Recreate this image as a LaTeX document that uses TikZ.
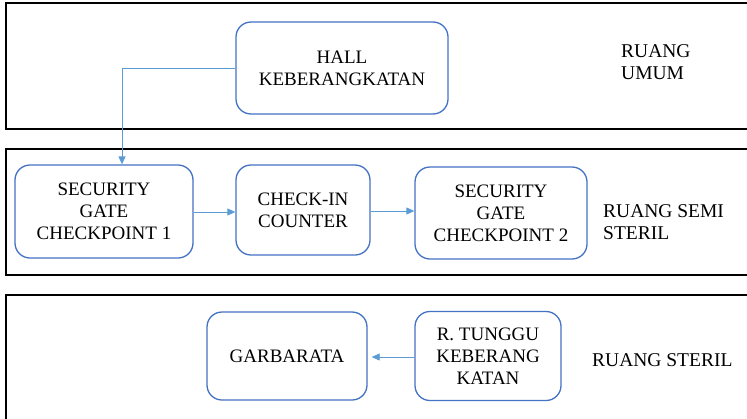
\documentclass[tikz,border=0pt]{standalone}
\usepackage{fontspec}
\setmainfont{Liberation Serif}
\usetikzlibrary{arrows.meta}
\definecolor{boxblue}{RGB}{68,114,196}
\definecolor{linkblue}{RGB}{91,155,213}
\tikzset{
  zone/.style={draw=black, line width=1.3pt},
  room/.style={draw=boxblue, line width=1.3pt, rounded corners=15pt, align=center,
    inner sep=0pt, font=\fontsize{19}{22}\selectfont},
  zonelabel/.style={font=\fontsize{19.5}{22}\selectfont, inner sep=0pt, align=left},
  flow/.style={draw=linkblue, line width=0.8pt, -{Triangle[length=8pt,width=7pt]}}
}
\begin{document}
\begin{tikzpicture}[x=1pt,y=-1pt]
  \useasboundingbox (0,0) rectangle (747,418);
  \clip (0,0) rectangle (747,418);

  % zone bands
  \draw[zone] (6,3) rectangle (770,129);
  \draw[zone] (6,149) rectangle (770,275);
  \draw[zone] (6,295) rectangle (770,440);

  % public zone
  \node[room, minimum width=212pt, minimum height=92pt] (hall) at (342,68)
    {HALL\\KEBERANGKATAN};
  \node[zonelabel, anchor=west] (umum) at (621,62.5) {RUANG\\UMUM};

  % semi-sterile zone
  \node[room, minimum width=178pt, minimum height=93pt] (sg1) at (104,211.5)
    {SECURITY\\GATE\\CHECKPOINT 1};
  \node[room, minimum width=134pt, minimum height=90pt] (check) at (303,210)
    {CHECK-IN\\COUNTER};
  \node[room, minimum width=172pt, minimum height=92pt] (sg2) at (501,213)
    {SECURITY\\GATE\\CHECKPOINT 2};
  \node[zonelabel, anchor=west] (semi) at (603,222.5) {RUANG SEMI\\STERIL};

  % sterile zone
  \node[room, minimum width=160pt, minimum height=88pt] (garba) at (287,356)
    {GARBARATA};
  \node[room, minimum width=146pt, minimum height=89pt] (tunggu) at (488,356)
    {R. TUNGGU\\KEBERANG\\KATAN};
  \node[zonelabel, anchor=base west] (steril) at (592,366) {RUANG STERIL};

  % passenger flow
  \coordinate (bend) at (122,68);
  \draw[flow] (hall.west |- bend) -- (bend) -- (bend |- sg1.north);
  \draw[flow] (sg1.east |- 0,212) -- (check.west |- 0,212);
  \draw[flow] (check.east |- 0,211) -- (sg2.west |- 0,211);
  \draw[flow] (tunggu.west |- 0,357) -- ([xshift=4pt]garba.east |- 0,357);
\end{tikzpicture}
\end{document}
